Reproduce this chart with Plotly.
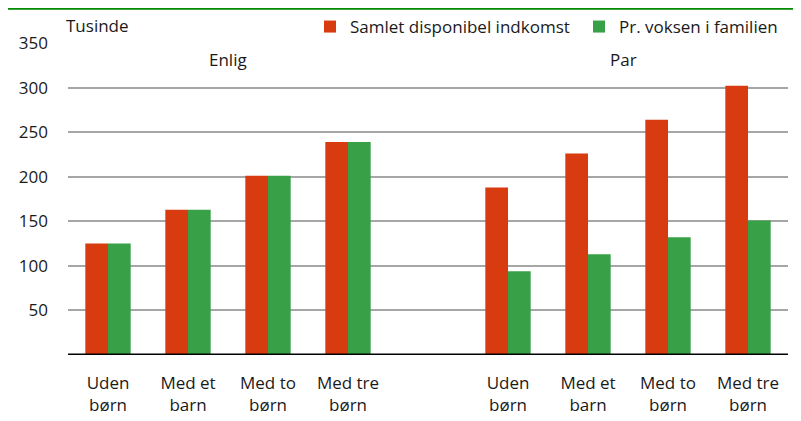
import plotly.graph_objects as go

categories = ["Uden<br>børn", "Med et<br>barn", "Med to<br>børn", "Med tre<br>børn",
              "Uden<br>børn", "Med et<br>barn", "Med to<br>børn", "Med tre<br>børn"]
positions = [0, 1, 2, 3, 5, 6, 7, 8]
samlet = [125, 163, 201, 239, 188, 226, 264, 302]
pr_voksen = [125, 163, 201, 239, 94, 113, 132, 151]
group_labels = ["Enlig", "Par"]
group_label_x = [1.5, 6.44]
y_ticks = [50, 100, 150, 200, 250, 300, 350]

RED = "#d83b10"
GREEN = "#38a047"
FONT = "Open Sans"
FS = 17

W, H = 793, 413  # page body has an 8px margin

fig = go.Figure()
fig.add_trace(go.Bar(x=positions, y=samlet, name="Samlet disponibel indkomst",
                     marker=dict(color=RED, line=dict(width=0))))
fig.add_trace(go.Bar(x=positions, y=pr_voksen, name="Pr. voksen i familien",
                     marker=dict(color=GREEN, line=dict(width=0))))

fig.update_layout(
    width=W, height=H,
    margin=dict(l=60, r=13, t=35, b=66, autoexpand=False),
    paper_bgcolor="white", plot_bgcolor="white",
    barmode="group", bargap=0.433, bargroupgap=0,
    font=dict(family=FONT, size=FS, color="#1a1a1a"),
    showlegend=True,
    legend=dict(orientation="h", xref="container", yref="container",
                x=302 / W, xanchor="left", y=1 - 19 / H, yanchor="middle",
                font=dict(size=FS), itemwidth=30, traceorder="normal",
                entrywidth=224, entrywidthmode="pixels",
                bgcolor="rgba(0,0,0,0)"),
    xaxis=dict(range=[-0.5, 8.5], tickmode="array", tickvals=positions, ticktext=categories,
               showgrid=False, zeroline=False, showline=False, ticks="",
               automargin=False, ticklabelstandoff=16,
               tickfont=dict(size=FS)),
    yaxis=dict(range=[0, 350], tickmode="array", tickvals=y_ticks,
               showgrid=True, gridcolor="#a6a6a6", gridwidth=1.5,
               zeroline=False, showline=False, ticks="", ticklabelstandoff=19,
               automargin=False,
               tickfont=dict(size=FS)),
)

# baseline
fig.add_shape(type="line", xref="paper", yref="y", x0=0, x1=1, y0=0, y1=0,
              line=dict(color="black", width=3))
# top green rule
fig.add_shape(type="line", xref="paper", yref="paper", x0=-60 / 720, x1=(720 + 13) / 720,
              y0=(312 + 35 - 0.5) / 312, y1=(312 + 35 - 0.5) / 312,
              line=dict(color="#008a00", width=2.5))

fig.add_annotation(text="Tusinde", xref="paper", yref="paper", x=-0.005, y=(312 + 35 - 18) / 312,
                   xanchor="left", yanchor="middle", showarrow=False,
                   font=dict(size=FS))
for lbl, gx in zip(group_labels, group_label_x):
    fig.add_annotation(text=lbl, x=gx, y=331, xref="x", yref="y",
                       showarrow=False, font=dict(size=FS))

fig.write_html("out.html")
